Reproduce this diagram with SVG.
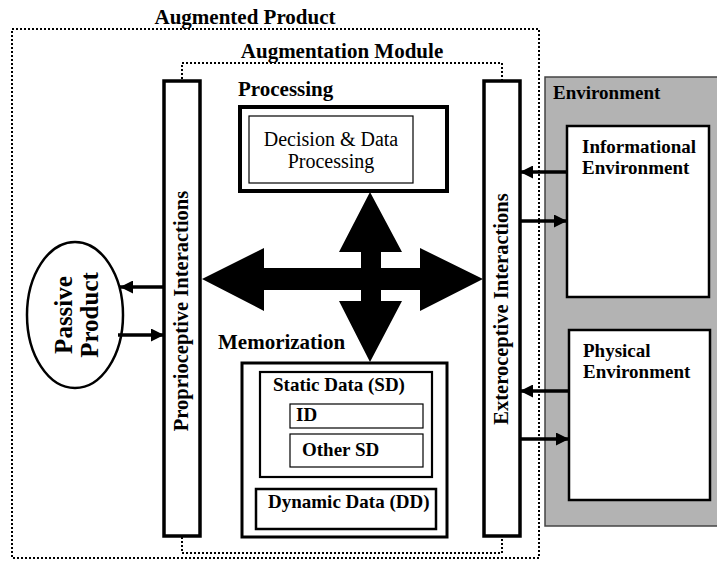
<svg xmlns="http://www.w3.org/2000/svg" width="717" height="561" viewBox="0 0 717 561">
<style>
text{font-family:"Liberation Serif","Times New Roman",serif;fill:#000}
.b{font-weight:bold}
.dot{fill:none;stroke:#000;stroke-width:2;stroke-dasharray:2 2}
.bar{fill:#fff;stroke:#000;stroke-width:3.5}
.con{stroke:#000;stroke-width:3.5;fill:none}
</style>
<defs>
<marker id="ah" markerUnits="userSpaceOnUse" markerWidth="13" markerHeight="13" refX="13" refY="6.5" orient="auto">
<path d="M0,0 L13,6.5 L0,13 z" fill="#000"/>
</marker>
</defs>
<rect width="717" height="561" fill="#fff"/>
<g id="augmented-product">
<rect class="dot" x="12" y="29" width="527" height="529"/>
<text class="b" x="245" y="24" font-size="21" text-anchor="middle">Augmented Product</text>
</g>
<g id="augmentation-module">
<rect class="dot" x="182" y="63" width="320" height="490"/>
<text class="b" x="342" y="58" font-size="21" text-anchor="middle">Augmentation Module</text>
</g>
<g id="environment">
<rect x="545" y="77" width="180" height="449" fill="#b3b3b3" stroke="#444" stroke-width="1.5"/>
<text class="b" x="553" y="99" font-size="19">Environment</text>
</g>
<g id="informational-environment">
<rect x="567" y="126" width="142" height="171" fill="#fff" stroke="#000" stroke-width="2.5"/>
<text class="b" x="582" y="153" font-size="19">Informational</text>
<text class="b" x="582" y="174" font-size="19">Environment</text>
</g>
<g id="physical-environment">
<rect x="569" y="330" width="141" height="170" fill="#fff" stroke="#000" stroke-width="2.5"/>
<text class="b" x="583" y="357" font-size="19">Physical</text>
<text class="b" x="583" y="378" font-size="19">Environment</text>
</g>
<g id="proprioceptive-interactions">
<rect class="bar" x="164" y="81" width="36" height="455"/>
<text class="b" transform="translate(188,311) rotate(-90)" font-size="20.5" text-anchor="middle">Proprioceptive Interactions</text>
</g>
<g id="exteroceptive-interactions">
<rect class="bar" x="484" y="81" width="36" height="455"/>
<text class="b" transform="translate(508,309) rotate(-90)" font-size="20.5" text-anchor="middle">Exteroceptive Interactions</text>
</g>
<g id="passive-product">
<ellipse cx="75" cy="315" rx="48" ry="73" fill="#fff" stroke="#000" stroke-width="2.5"/>
<text class="b" transform="translate(72,315) rotate(-90)" font-size="25" text-anchor="middle">Passive</text>
<text class="b" transform="translate(98,315) rotate(-90)" font-size="25" text-anchor="middle">Product</text>
</g>
<g id="processing">
<text class="b" x="238" y="96" font-size="21">Processing</text>
<rect x="240" y="107" width="207" height="84" fill="#fff" stroke="#000" stroke-width="4"/>
<rect x="249" y="116" width="164" height="67" fill="#fff" stroke="#000" stroke-width="1.2"/>
<text x="331" y="146" font-size="20" text-anchor="middle">Decision &amp; Data</text>
<text x="331" y="168" font-size="20" text-anchor="middle">Processing</text>
</g>
<g id="memorization">
<text class="b" x="218" y="349" font-size="21">Memorization</text>
<rect x="242" y="363" width="205" height="174" fill="#fff" stroke="#000" stroke-width="3"/>
<rect x="260" y="372" width="172" height="105" fill="#fff" stroke="#000" stroke-width="2.2"/>
<text class="b" x="273" y="391" font-size="19">Static Data (SD)</text>
<rect x="290" y="404" width="133" height="24" fill="#fff" stroke="#000" stroke-width="1.2"/>
<text class="b" x="296" y="421" font-size="19">ID</text>
<rect x="290" y="434" width="133" height="33" fill="#fff" stroke="#000" stroke-width="1.2"/>
<text class="b" x="302" y="456" font-size="19">Other SD</text>
<rect x="256" y="489" width="180" height="40" fill="#fff" stroke="#000" stroke-width="2.5"/>
<text class="b" x="268" y="508" font-size="19">Dynamic Data (DD)</text>
</g>
<g id="connectors">
<polygon points="202,279 264,248 264,268 361,268 361,252 339,252 370,192 402,252 381,252 381,268 420,268 420,248 483,279 420,311 420,290 381,290 381,301 402,301 370,362 339,301 361,301 361,290 264,290 264,311" fill="#000"/>
<line class="con" x1="164" y1="287" x2="120" y2="287" marker-end="url(#ah)"/>
<line class="con" x1="118" y1="335" x2="164" y2="335" marker-end="url(#ah)"/>
<line class="con" x1="567" y1="172" x2="520" y2="172" marker-end="url(#ah)"/>
<line class="con" x1="520" y1="221" x2="567" y2="221" marker-end="url(#ah)"/>
<line class="con" x1="569" y1="391" x2="520" y2="391" marker-end="url(#ah)"/>
<line class="con" x1="520" y1="439" x2="569" y2="439" marker-end="url(#ah)"/>
</g>
</svg>
